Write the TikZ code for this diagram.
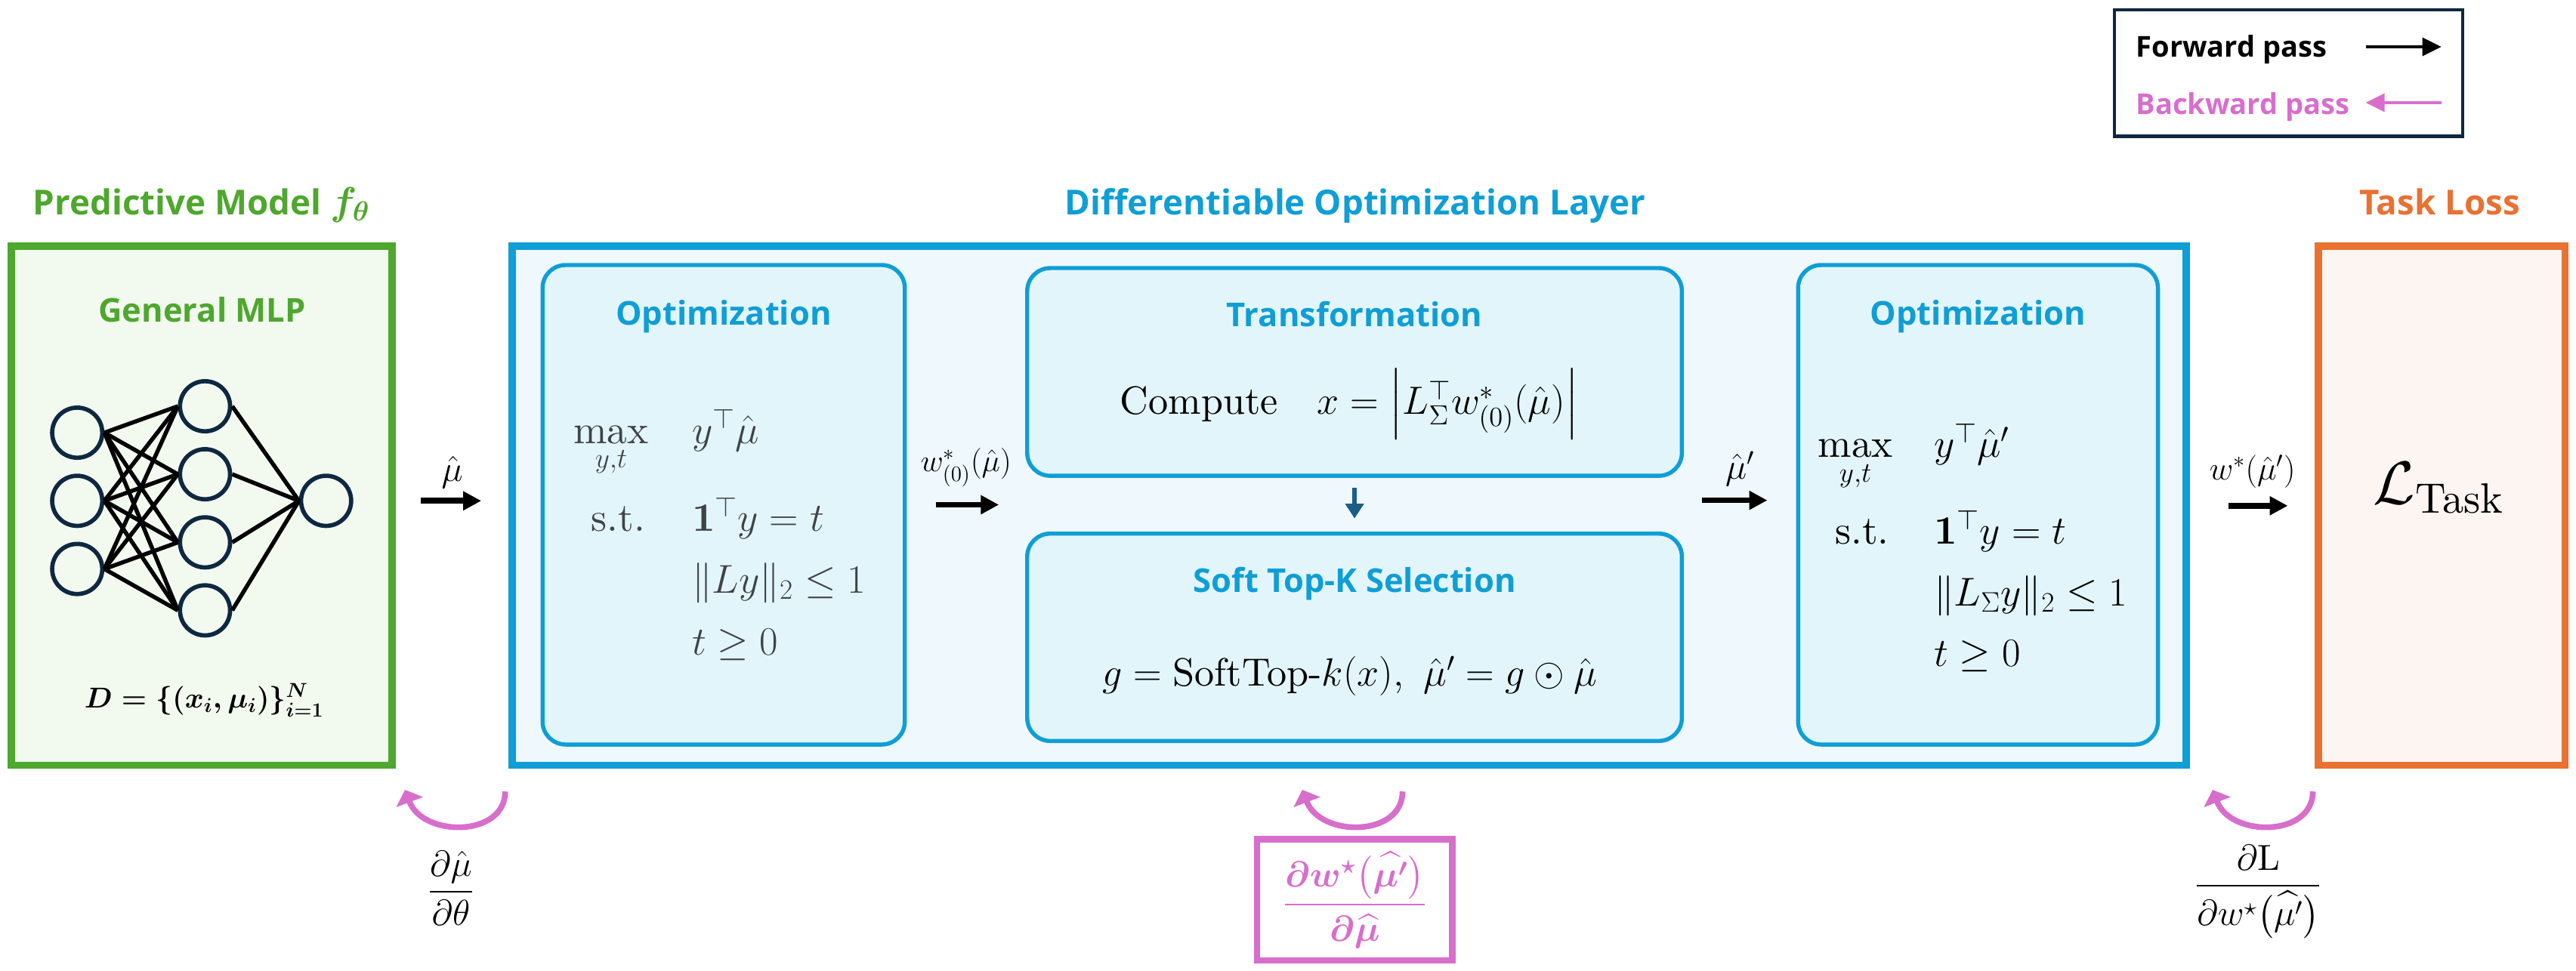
\RequirePackage{fix-cm}
\documentclass[tikz,border=0pt]{standalone}
\usepackage{amsmath,amssymb}
\usepackage{fontspec}
\setmainfont{lmroman10-regular.otf}[BoldFont=lmroman10-bold.otf,
  ItalicFont=lmroman10-italic.otf, BoldItalicFont=lmroman10-bolditalic.otf]
\usetikzlibrary{arrows.meta,positioning}
\newfontfamily\hfont{Open Sans}
\definecolor{mlgreen}{HTML}{4EA72E}
\definecolor{mlfill}{HTML}{F2F9EF}
\definecolor{optblue}{HTML}{0F9ED5}
\definecolor{layerfill}{HTML}{EEF8FD}
\definecolor{optfill}{HTML}{E2F5FB}
\definecolor{lossorange}{HTML}{E97132}
\definecolor{lossfill}{HTML}{FDF5F2}
\definecolor{gradpink}{HTML}{D86ECC}
\definecolor{navy}{HTML}{0E2841}
\definecolor{downblue}{HTML}{1B5E86}
\definecolor{mathgray}{HTML}{3F4346}
\newcommand{\maxyt}{\mathop{\text{max}}\limits_{y,t}}

\begin{document}
\begin{tikzpicture}[x=1pt,y=-1pt,
  every node/.style={inner sep=0pt},
  bigbox/.style={draw, line width=4.5pt, minimum height=316pt},
  subbox/.style={draw=optblue, fill=optfill, line width=2.5pt, rounded corners=14pt},
  neuron/.style={circle, draw=navy, line width=2.6pt, minimum size=30.5pt},
  edge/.style={line width=2.5pt},
  fwd/.style={line width=3.5pt, -{Triangle[length=11pt,width=11pt]}},
  bwd/.style={gradpink, line width=3.5pt, -{Triangle[length=8pt,width=17pt]}},
  head/.style={font=\hfont\bfseries\fontsize{21}{25}\selectfont},
  subhead/.style={optblue, font=\hfont\bfseries\fontsize{20}{24}\selectfont},
  bigmath/.style={font=\fontsize{24.5}{29}\selectfont},
  legtext/.style={anchor=base west, font=\hfont\bfseries\fontsize{17.5}{21}\selectfont},
]
\useasboundingbox (0,0) rectangle (1568,591);

% three main blocks
\node[bigbox, draw=mlgreen, fill=mlfill, minimum width=232pt] (pm) at (122.75,308) {};
\node[bigbox, draw=optblue, fill=layerfill, minimum width=1019pt] (dol) at (821.3,308) {};
\node[bigbox, draw=lossorange, fill=lossfill, minimum width=150pt] (tl) at (1486.3,308) {};

\node[head, mlgreen, anchor=base] (pmtitle) at (122.7,131) {Predictive Model {\fontsize{24}{28}\selectfont$\boldsymbol{f_\theta}$}};
\node[head, optblue, anchor=base] (doltitle) at (825,131) {Differentiable Optimization Layer};
\node[head, lossorange, anchor=base] (tltitle) at (1485,131) {Task Loss};

% predictive model
\node[subhead, mlgreen, anchor=base] (mlp) at (123,196) {General MLP};
\foreach \n/\y in {1/263.5,2/305,3/346.5}
  \node[neuron] (in\n) at (47,\y) {};
\foreach \n/\y in {1/247.4,2/288.8,3/330.3,4/371.7}
  \node[neuron] (hid\n) at (124.8,\y) {};
\node[neuron] (out) at (198.5,305) {};
\foreach \i in {1,2,3}
  \foreach \j in {1,...,4}
    \draw[edge] (in\i.east) -- (hid\j.west);
\foreach \j in {1,...,4}
  \draw[edge] (hid\j.east) -- (out.west);
\node[anchor=base, font=\fontsize{17.5}{21}\selectfont] (data) at (124.3,431)
  {$\boldsymbol{D=\{(x_i,\mu_i)\}_{i=1}^{N}}$};

% optimization layer
\node[subbox, minimum width=220.5pt, minimum height=292pt] (opt1) at (440.5,307.4) {};
\node[subbox, minimum width=398.5pt, minimum height=126.5pt] (trans) at (824.5,226.5) {};
\node[subbox, minimum width=398.5pt, minimum height=126.25pt] (sel) at (824.5,388.1) {};
\node[subbox, minimum width=219pt, minimum height=292pt] (opt2) at (1204,307.4) {};

\node[subhead, anchor=base] (opt1title) at (440.5,198) {Optimization};
\node[subhead, anchor=base] (transtitle) at (824.5,199) {Transformation};
\node[subhead, anchor=base] (seltitle) at (824.5,360.5) {Soft Top-K Selection};
\node[subhead, anchor=base] (opt2title) at (1204,198) {Optimization};

\begin{scope}[every node/.append style={bigmath, text=mathgray}]
\node[anchor=base east] (opt1max) at (395,270) {$\maxyt$};
\node[anchor=base west] (opt1obj) at (421,270) {$y^\top\hat{\mu}$};
\node[anchor=base east] (opt1st) at (393,323.6) {$\text{s.t.}$};
\node[anchor=base west] (opt1sum) at (421,323.6) {$\mathbf{1}^\top y = t$};
\node[anchor=base west] (opt1norm) at (421,361) {$\|Ly\|_2 \le 1$};
\node[anchor=base west] (opt1pos) at (421,399) {$t \ge 0$};
\end{scope}

\node[bigmath, anchor=base, font=\fontsize{24}{29}\selectfont] (compute) at (821.3,252)
  {$\text{Compute}\quad x = \left|L_\Sigma^\top w^*_{(0)}(\hat{\mu})\right|$};
\node[bigmath, anchor=base, font=\fontsize{24}{29}\selectfont] (softtop) at (821.6,417.6)
  {$g = \text{SoftTop-}k(x),\ \hat{\mu}' = g \odot \hat{\mu}$};

\begin{scope}[every node/.append style={bigmath}]
\node[anchor=base east] (opt2max) at (1152.4,278.5) {$\maxyt$};
\node[anchor=base west] (opt2obj) at (1177,278.5) {$y^\top\hat{\mu}'$};
\node[anchor=base east] (opt2st) at (1150,331.5) {$\text{s.t.}$};
\node[anchor=base west] (opt2sum) at (1177,331.5) {$\mathbf{1}^\top y = t$};
\node[anchor=base west] (opt2norm) at (1177,369) {$\|L_\Sigma y\|_2 \le 1$};
\node[anchor=base west] (opt2pos) at (1177,406) {$t \ge 0$};
\end{scope}

% task loss
\node[anchor=base, font=\fontsize{37}{44}\selectfont] (ltask) at (1484.3,307) {$\mathcal{L}_{\text{Task}}$};

% forward pass
\draw[fwd, shorten <=15.25pt, shorten >=16.6pt] ([yshift=3pt]pm.east) -- ([yshift=3pt]dol.west)
  node[midway, above=6pt, font=\fontsize{22}{26}\selectfont] (muhat) {$\hat{\mu}$};
\draw[fwd, shorten <=17.5pt, shorten >=16pt] (opt1.east) -- (opt1.east -| trans.west)
  node[midway, above=9pt, font=\fontsize{19}{23}\selectfont] (wzero) {$w^*_{(0)}(\hat{\mu})$};
\draw[downblue, line width=3pt, -{Triangle[length=9pt,width=11pt]}, shorten <=6pt, shorten >=8pt]
  (trans.south) -- (sel.north);
\draw[fwd, shorten <=10.8pt, shorten >=17.5pt] ([yshift=2.7pt]opt2.west -| sel.east) -- ([yshift=2.7pt]opt2.west)
  node[midway, above=7pt, font=\fontsize{22}{26}\selectfont] (muprime) {$\hat{\mu}'$};
\draw[fwd, shorten <=23.3pt, shorten >=16.5pt] (dol.east) -- (tl.west)
  node[midway, above=9pt, font=\fontsize{20}{24}\selectfont] (wstar) {$w^*(\hat{\mu}')$};

% backward pass
\coordinate (bk1s) at (307.5,482);  \coordinate (bk1e) at (246.5,481);
\coordinate (bk2s) at (853.7,482);  \coordinate (bk2e) at (792.7,481);
\coordinate (bk3s) at (1407.8,482); \coordinate (bk3e) at (1346.8,481);
\foreach \k in {1,2,3}
  \draw[bwd] (bk\k s) .. controls +(0,28) and +(11,29) .. (bk\k e);

\node[font=\fontsize{22}{26}\selectfont] (dmudtheta) at (274.5,541) {$\dfrac{\partial\hat{\mu}}{\partial\theta}$};
\node[draw=gradpink, line width=3.8pt, fill=white, minimum width=118.8pt, minimum height=73.8pt,
  text=gradpink, font=\fontsize{22}{26}\selectfont] (dwdmu) at (824.6,548)
  {$\boldsymbol{\dfrac{\partial w^{\star}\bigl(\widehat{\mu'}\bigr)}{\partial\widehat{\mu}}}$};
\node[font=\fontsize{22}{26}\selectfont] (dldw) at (1374.6,543) {$\dfrac{\partial\mathrm{L}}{\partial w^{\star}\bigl(\widehat{\mu'}\bigr)}$};

% legend
\node[draw=navy, line width=2pt, minimum width=212pt, minimum height=77pt] (legend) at (1393,44.5) {};
\node[legtext] (fwdtext) at (1300,34.5) {Forward pass};
\node[legtext, gradpink] (bwdtext) at (1300,69.5) {Backward pass};
\coordinate (fwdA) at (1440,28.5); \coordinate (fwdB) at (1486,28.5);
\coordinate (bwdA) at (1486,62.5); \coordinate (bwdB) at (1440,62.5);
\draw[line width=1.6pt, -{Triangle[length=11.5pt,width=11pt]}] (fwdA) -- (fwdB);
\draw[gradpink, line width=1.6pt, -{Triangle[length=11.5pt,width=11pt]}] (bwdA) -- (bwdB);
\end{tikzpicture}
\end{document}
